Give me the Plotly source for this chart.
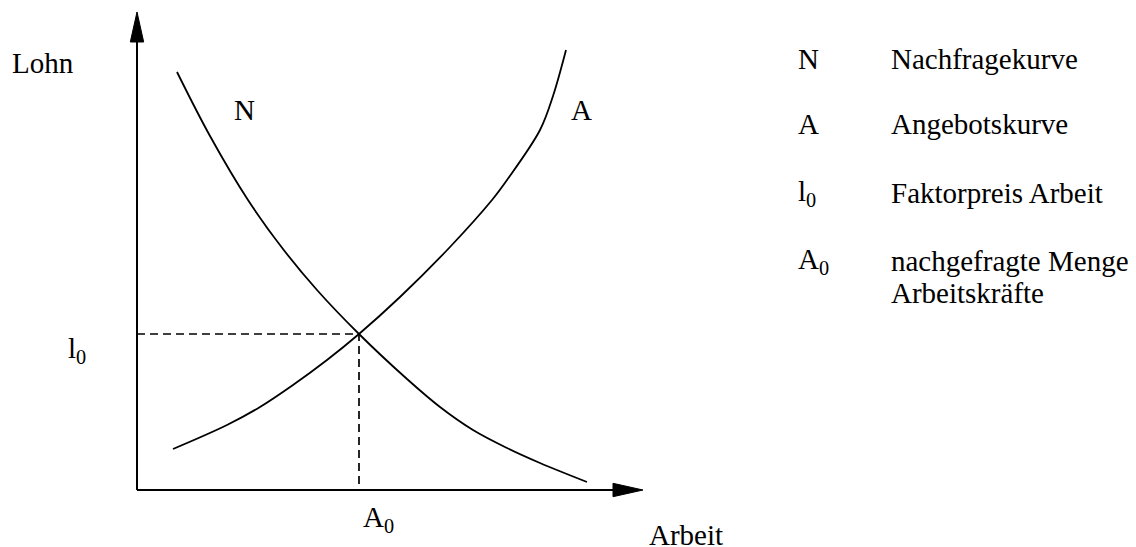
#!/usr/bin/env python3
"""Arbeitsmarkt: Angebots- und Nachfragekurve mit Gleichgewichtslohn."""
import plotly.graph_objects as go

# Kurvenpunkte (Arbeit, Lohn) in Diagrammeinheiten
DEMAND_X = [4.0, 7.3, 11.1, 14.6, 18.0, 22.2, 27.0, 30.3, 33.6, 37.0, 40.3, 45.0]
DEMAND_Y = [41.8, 35.4, 29.0, 24.1, 20.0, 15.6, 11.1, 8.3, 6.0, 4.2, 2.7, 0.8]
SUPPLY_X = [3.6, 9.0, 12.3, 15.6, 19.0, 22.2, 26.3, 31.3, 35.5, 37.0, 40.3, 41.6, 42.9]
SUPPLY_Y = [4.1, 6.5, 8.3, 10.5, 13.0, 15.6, 19.3, 24.3, 29.0, 31.0, 36.0, 39.4, 44.0]

# Gleichgewicht
A0_QTY = 22.2
L0_WAGE = 15.6

# Achsenlängen
X_AXIS_END = 50.6
Y_AXIS_END = 47.8

LEGEND_KEYS = ["N", "A", "l<sub>0</sub>", "A<sub>0</sub>", ""]
LEGEND_TEXT = ["Nachfragekurve", "Angebotskurve", "Faktorpreis Arbeit",
               "nachgefragte Menge", "Arbeitskräfte"]
LEGEND_Y = [43.1, 36.6, 29.7, 22.9, 19.7]

BLACK = "#000000"
FONT = dict(family="Times New Roman, Liberation Serif, serif", size=29, color=BLACK)

fig = go.Figure()

fig.add_trace(go.Scatter(x=DEMAND_X, y=DEMAND_Y, mode="lines", name="N",
                         line=dict(color=BLACK, width=1.8, shape="spline", smoothing=1.0)))
fig.add_trace(go.Scatter(x=SUPPLY_X, y=SUPPLY_Y, mode="lines", name="A",
                         line=dict(color=BLACK, width=1.8, shape="spline", smoothing=1.0)))

# Hilfslinien zum Gleichgewicht
fig.add_trace(go.Scatter(x=[0, A0_QTY, A0_QTY], y=[L0_WAGE, L0_WAGE, 0], mode="lines",
                         line=dict(color=BLACK, width=1.7, dash="8px,5px")))

# Achsen mit Pfeilspitzen
head_len, head_half = 3.0, 0.67
fig.add_shape(type="line", x0=0, y0=0, x1=X_AXIS_END - head_len, y1=0,
              line=dict(color=BLACK, width=2))
fig.add_shape(type="line", x0=0, y0=0, x1=0, y1=Y_AXIS_END - head_len,
              line=dict(color=BLACK, width=2))
fig.add_shape(type="path", fillcolor=BLACK, line=dict(color=BLACK, width=1),
              path=(f"M {X_AXIS_END},0 L {X_AXIS_END - head_len},{head_half} "
                    f"L {X_AXIS_END - head_len},{-head_half} Z"))
fig.add_shape(type="path", fillcolor=BLACK, line=dict(color=BLACK, width=1),
              path=(f"M 0,{Y_AXIS_END} L {-head_half},{Y_AXIS_END - head_len} "
                    f"L {head_half},{Y_AXIS_END - head_len} Z"))


def label(text, x, y, xanchor="left"):
    fig.add_annotation(x=x, y=y, text=text, showarrow=False, font=FONT,
                       xanchor=xanchor, yanchor="middle")


label("Lohn", -12.7, 42.7)
label("Arbeit", 51.0, -4.5)
label("l<sub>0</sub>", -7.1, 14.0)
label("A<sub>0</sub>", 22.4, -2.9)
label("N", 10.7, 38.0, "center")
label("A", 44.4, 38.0, "center")

for key, txt, y in zip(LEGEND_KEYS, LEGEND_TEXT, LEGEND_Y):
    if key:
        label(key, 65.9, y)
    label(txt, 75.2, y)

# Seite hat 8px Rand -> Figur etwas kleiner, gleiche Skala (10 px je Einheit)
fig.update_layout(
    width=1128, height=539,
    margin=dict(l=0, r=0, t=0, b=0, pad=0),
    paper_bgcolor="white", plot_bgcolor="white",
    showlegend=False,
    xaxis=dict(range=[-12.9, 99.9], visible=False, fixedrange=True),
    yaxis=dict(range=[-5.7, 48.2], visible=False, fixedrange=True),
)

fig.write_html("out.html")
